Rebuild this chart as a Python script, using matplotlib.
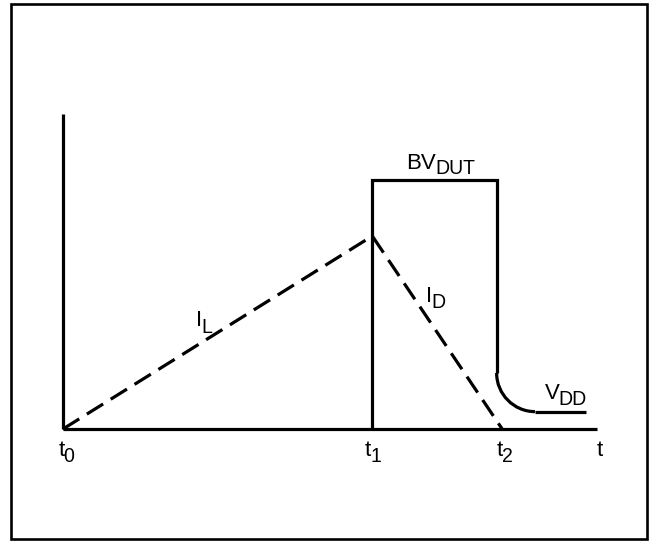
import matplotlib
matplotlib.use("Agg")
import matplotlib.pyplot as plt
from matplotlib.path import Path
from matplotlib.patches import PathPatch, Rectangle

plt.rcParams["font.family"] = ["Liberation Sans Narrow", "Liberation Sans", "DejaVu Sans"]

# time marks (t1 = 1) and levels (peak current = 1)
t_marks = [0.0, 1.0, 1.42]
t_subs = ["0", "1", "2"]
t_axis_end = 1.725
y_axis_top = 1.632

i_peak = 1.0          # I_L rises t0 -> t1, I_D falls t1 -> t2
bv_level = 1.288      # BV_DUT clamp level
bv_end = 1.402        # end of avalanche plateau
vdd_knee = 0.29       # where the falling edge starts to bend
vdd_level = 0.09
vdd_bend_end = 1.526
vdd_end = 1.69

LW = 2.3
INK = "black"

fig = plt.figure(figsize=(6.5, 5.41), dpi=100)
ax = fig.add_axes([0, 0, 1, 1])
ax.set_xlim(-0.2037, 1.8979)
ax.set_ylim(-0.5803, 2.2228)
ax.axis("off")

# outer frame
fig.patches.append(Rectangle((0.0174, 0.0041), 0.9777, 0.9889, transform=fig.transFigure,
                             fill=False, lw=1.9, ec=INK))

# axes of the sketch
ax.plot([t_marks[0], t_marks[0]], [0, y_axis_top], color=INK, lw=LW, solid_capstyle="butt")
ax.plot([t_marks[0], t_axis_end], [0, 0], color=INK, lw=LW, solid_capstyle="butt")

# V_DS trace: jump at t1 to BV, plateau, fall and settle to VDD
ax.plot([t_marks[1], t_marks[1], bv_end, bv_end], [0, bv_level, bv_level, vdd_knee],
        color=INK, lw=LW, solid_joinstyle="miter", solid_capstyle="butt")
k = 0.55
verts = [(bv_end, vdd_knee),
         (bv_end, vdd_knee - k * (vdd_knee - vdd_level)),
         (vdd_bend_end - k * (vdd_bend_end - bv_end), vdd_level),
         (vdd_bend_end, vdd_level)]
ax.add_patch(PathPatch(Path(verts, [Path.MOVETO, Path.CURVE4, Path.CURVE4, Path.CURVE4]),
                       fill=False, ec=INK, lw=LW))
ax.plot([vdd_bend_end, vdd_end], [vdd_level, vdd_level], color=INK, lw=LW, solid_capstyle="butt")

# inductor / device current (dashed)
ax.plot([t_marks[0], t_marks[1], t_marks[2]], [0, i_peak, 0], color=INK, lw=LW,
        dashes=(6.0, 2.8), dash_capstyle="butt")


def label(x, y, base, sub=None, size=16, drop=-3.6, gap=-0.4):
    t = ax.text(x, y, base, fontsize=size, ha="left", va="baseline")
    if sub:
        ax.annotate(sub, xy=(1, 0), xycoords=t, xytext=(gap, drop),
                    textcoords="offset points", fontsize=size * 0.88,
                    ha="left", va="bottom")
    return t


label(1.111, 1.3456, "BV", "DUT", drop=-2.8)
label(0.4316, 0.5337, "I", "L", drop=-4.0, gap=-0.6)
label(1.1752, 0.6606, "I", "D", gap=-0.6)
label(1.5567, 0.1554, "V", "DD")

t_label_x = [-0.0145, 0.9764, 1.4032]
for x, s in zip(t_label_x, t_subs):
    label(x, -0.140, "t", s, gap=-0.8)
label(1.7265, -0.140, "t")

fig.savefig("out.png", dpi=100)
